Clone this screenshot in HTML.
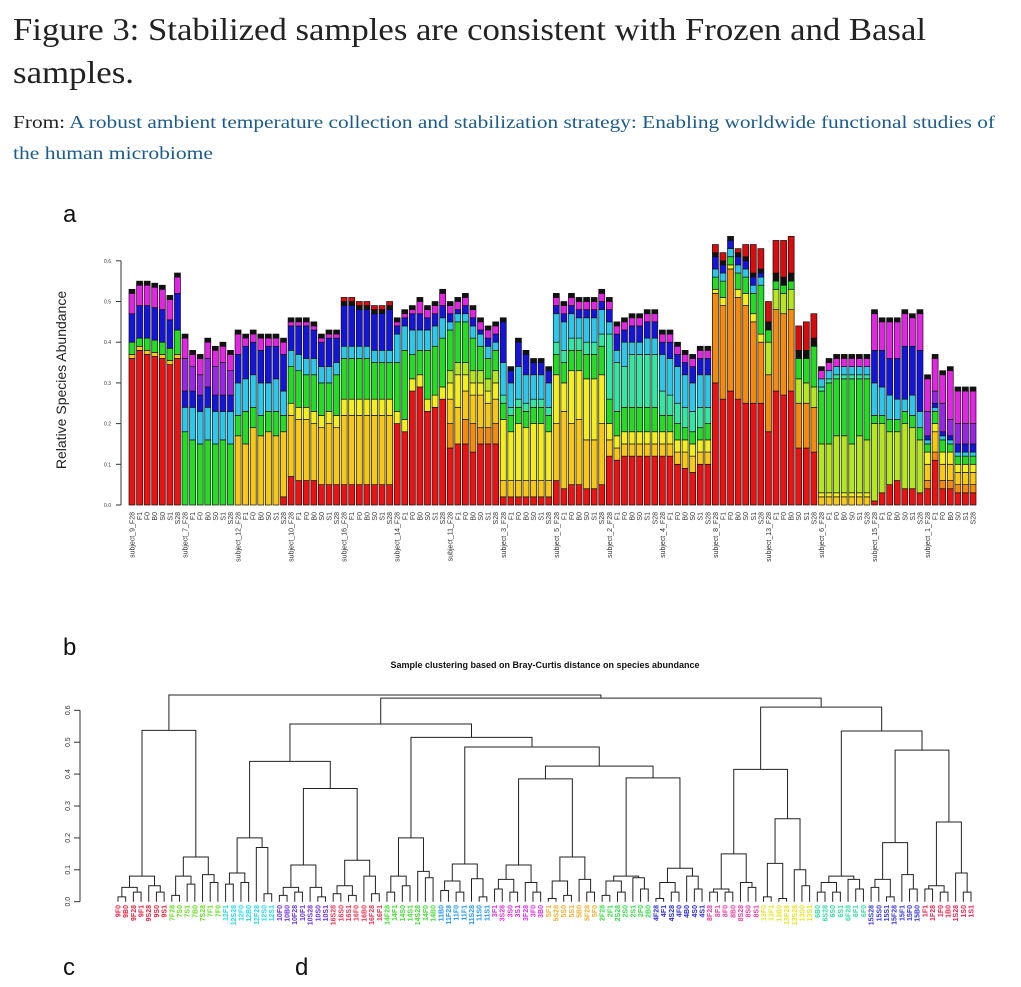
<!DOCTYPE html>
<html><head><meta charset="utf-8"><style>
html,body{margin:0;padding:0;background:#fff;}
svg{display:block;}
</style></head><body>
<svg id="fig" width="1021" height="987" viewBox="0 0 1021 987" xmlns="http://www.w3.org/2000/svg">
<text x="13" y="40" font-family="Liberation Serif, serif" font-size="32" fill="#222" textLength="913" lengthAdjust="spacingAndGlyphs">Figure 3: Stabilized samples are consistent with Frozen and Basal</text>
<text x="13" y="83" font-family="Liberation Serif, serif" font-size="32" fill="#222" textLength="121" lengthAdjust="spacingAndGlyphs">samples.</text>
<text x="13" y="128" font-family="Liberation Serif, serif" font-size="18" fill="#222" textLength="982" lengthAdjust="spacingAndGlyphs">From: <tspan fill="#1b5b8c">A robust ambient temperature collection and stabilization strategy: Enabling worldwide functional studies of</tspan></text>
<text x="13" y="159" font-family="Liberation Serif, serif" font-size="18" fill="#1b5b8c" textLength="200" lengthAdjust="spacingAndGlyphs">the human microbiome</text>
<text x="63" y="222" font-family="Liberation Sans, sans-serif" font-size="24" fill="#111">a</text>
<text x="63" y="655" font-family="Liberation Sans, sans-serif" font-size="24" fill="#111">b</text>
<text x="63" y="975" font-family="Liberation Sans, sans-serif" font-size="24" fill="#111">c</text>
<text x="295" y="975" font-family="Liberation Sans, sans-serif" font-size="24" fill="#111">d</text>
<g id="bars"></g>
<g id="dendro"></g>
</svg>
<script>
const subjects = [9,7,12,10,16,14,11,3,5,2,4,8,13,6,15,1];
const timepoints = ["F28","F1","F0","B0","S0","S1","S28"];
const yTicks = [0,0.1,0.2,0.3,0.4,0.5,0.6];
const Z = [0,0,0,0,0,0,0];
const red = [[.36,.38,.37,.365,.36,.345,.36],Z,[0,0,0,0,0,0,.02],[.07,.06,.06,.06,.05,.05,.05],[.05,.05,.05,.05,.05,.05,.05],[.20,.18,.28,.29,.23,.24,.26],[.14,.15,.15,.13,.15,.15,.15],[.02,.02,.02,.02,.02,.02,.02],[.06,.04,.05,.05,.04,.04,.05],[.12,.11,.12,.12,.12,.12,.12],[.12,.12,.10,.09,.08,.10,.10],[.30,.26,.28,.26,.25,.25,.25],[.18,.28,.27,.28,.14,.14,.13],Z,[.01,.03,.05,.06,.04,.04,.03],[.04,.11,.04,.04,.03,.03,.03]];
const orange = [Z,Z,Z,Z,Z,Z,[.06,0,.06,.07,.04,.04,.05],Z,Z,Z,Z,[.22,.23,.30,.25,.24,.20,.15],[.14,.20,.20,.20,.11,.11,.11],Z,Z,[.02,.02,.02,.02,.02,.02,.02]];
const gold = [[.01,.01,.01,.01,.01,.01,.01],Z,[.17,.15,.19,.17,.18,.17,.16],[.15,.15,.15,.14,.14,.15,.14],[.17,.17,.17,.17,.17,.17,.17],Z,[.06,.09,.07,.07,.08,.06,.06],[.04,.04,.04,.04,.04,.04,.04],[.14,.19,.15,.16,.12,.12,.15],[.04,.03,.03,.03,.03,.03,.03],[.03,.03,.03,.04,.04,.03,.03],Z,Z,[.02,.02,.02,.02,.02,.02,.02],Z,[.04,.05,.04,.04,.03,.03,.03]];
const yellow = [Z,Z,Z,[.03,.03,.03,.03,.03,.03,.03],[.04,.04,.04,.04,.04,.04,.04],[.03,.03,.03,.03,.03,.03,.03],[.04,.08,.04,.03,.03,.03,.04],[.15,.12,.14,.13,.14,.14,.12],[.12,.07,.13,.12,.15,.15,.12],[.04,.03,.03,.03,.03,.03,.03],[.03,.03,.03,.03,.03,.03,.03],[.01,.02,.01,.02,.03,.02,.02],Z,[.01,.01,.01,.01,.01,.01,.01],Z,[.03,.02,.03,.03,.02,.02,.02]];
const ygreen = [Z,Z,Z,Z,Z,Z,[.03,.03,.03,.03,.03,.03,.03],Z,Z,Z,Z,Z,[.08,.05,.05,.05,.06,.05,.05],[.12,.12,.14,.14,.12,.14,.13],[.19,.17,.13,.12,.16,.15,.13],Z];
const green = [[.03,.02,.03,.03,.03,.03,.06],[.18,.16,.15,.16,.15,.16,.15],[.05,.08,.05,.05,.05,.06,.04],[.09,.09,.08,.09,.08,.07,.10],[.10,.10,.10,.10,.09,.09,.09],[.12,.17,.06,.06,.12,.12,.12],[.10,.10,.10,.08,.06,.05,.05],[.04,.04,.04,.04,.04,.04,.04],[.05,.05,.05,.05,.06,.06,.07],[.06,.06,.06,.06,.06,.06,.06],[.04,.04,.04,.03,.03,.03,.04],[.03,.04,.02,.04,.04,.05,.12],[.03,.02,.02,.02,.05,.06,.10],[.13,.15,.14,.14,.16,.14,.15],[.02,.02,.03,.03,.03,.03,.03],[.02,.03,.03,.02,.02,.02,.02]];
const spring = [Z,Z,Z,Z,Z,Z,Z,[.02,.02,.02,.02,.02,.02,.02],[.03,.03,.03,.03,.03,.03,.03],[.16,.12,.10,.13,.13,.13,.13],[.06,.05,.05,.05,.05,.05,.04],Z,Z,[.01,.01,.01,.01,.01,.01,.01],Z,Z];
const cyan = [Z,[.06,.08,.08,.08,.08,.07,.08],[.08,.08,.08,.08,.07,.08,.06],[.04,.04,.04,.04,.04,.04,.03],[.03,.03,.03,.03,.03,.03,.03],[.07,.06,.06,.05,.05,.05,.05],[.02,.02,.02,.03,.03,.03,.02],[.08,.06,.08,.07,.06,.06,.06],[.07,.07,.06,.05,.06,.06,.06],[.03,.03,.06,.03,.03,.04,.04],[.09,.09,.09,.08,.07,.08,.08],[.02,.02,.02,.02,.02,.02,.02],Z,[.02,.02,.02,.02,.02,.02,.02],[.08,.07,.06,.05,.03,.05,.04],[.01,.01,.01,.01,.01,.01,.01]];
const blue = [[.07,.08,.08,.08,.08,.07,.09],[.04,.04,.04,.05,.04,.04,.04],[.07,.08,.08,.08,.09,.08,.09],[.06,.07,.08,.07,.06,.07,.06],[.10,.10,.09,.09,.09,.09,.10],[.02,.02,.04,.04,.03,.03,.03],[.02,.01,.02,.02,.01,.02,.02],[.10,.03,.06,.05,.03,.03,.03],[.02,.02,.02,.02,.02,.02,.02],[.03,.04,.03,.04,.04,.04,.04],[.03,.04,.03,.03,.04,.04,.04],[.03,.02,.02,.02,.02,.02,.01],Z,Z,[.08,.09,.09,.10,.13,.12,.15],[.01,.01,.01,.01,.02,.02,.02]];
const purple = [Z,[.08,.06,.05,.07,.07,.08,.06],Z,Z,Z,Z,Z,Z,Z,Z,Z,Z,Z,Z,Z,[.06,.03,.07,.04,.05,.05,.05]];
const magenta = [[.05,.05,.05,.05,.05,.05,.04],[.05,.03,.04,.04,.04,.04,.04],[.05,.02,.02,.03,.02,.02,.03],[.01,.01,.01,.01,.01,.01,.01],Z,[.01,.01,.01,.03,.02,.02,.03],[.02,.02,.02,.02,.02,.02,.02],Z,[.02,.02,.02,.02,.02,.02,.02],[.02,.02,.02,.02,.02,.02,.02],[.02,.02,.02,.02,.02,.02,.02],Z,Z,[.02,.02,.02,.02,.02,.02,.02],[.09,.07,.09,.09,.08,.07,.09],[.08,.08,.07,.12,.08,.08,.08]];
const black = [[.01,.01,.01,.01,.01,.01,.01],[.01,.01,.01,.01,.01,.01,.01],[.01,.01,.01,.01,.01,.01,.01],[.01,.01,.01,.01,.01,.01,.01],[.01,.01,.01,.01,.01,.01,.01],[.01,.01,.01,.01,.01,.01,.01],[.01,.01,.01,.01,.01,.01,.01],[.01,.01,.01,.01,.01,.01,.01],[.01,.01,.01,.01,.01,.01,.01],[.01,.01,.01,.01,.01,.01,.01],[.01,.01,.01,.01,.01,.01,.01],[.01,.01,.01,.01,.01,.01,.01],[.02,.02,.02,.02,.02,.02,.02],[.01,.01,.01,.01,.01,.01,.01],[.01,.01,.01,.01,.01,.01,.01],[.01,.01,.01,.01,.01,.01,.01]];
const topred = [Z,Z,Z,Z,[.01,.01,.01,.01,.01,.01,.01],Z,Z,Z,Z,Z,Z,[.02,.02,0,.01,.03,.07,.05],[.05,.08,.09,.09,.06,.07,.06],Z,Z,Z];
const speciesNames = ["red","orange","gold","yellow","ygreen","green","spring","cyan","blue","purple","magenta","black","topred"];
const speciesData = [red,orange,gold,yellow,ygreen,green,spring,cyan,blue,purple,magenta,black,topred];
const speciesColors = ["#ee1111","#f58a0c","#f8c812","#f4ee1a","#b4e81a","#22dd22","#30e8a0","#2cc8ec","#1414dc","#9a24e6","#e424e4","#111111","#d80c0c"];

const leafLabels = [
["9F0","9B0","9F28","9F1","9S28","9S0","9S1"],["7F28","7S0","7S1","7B0","7S28","7F1","7F0"],
["12F1","12S28","12F0","12B0","12F28","12S0","12S1"],["10F0","10B0","10F28","10F1","10S28","10S0","10S1"],
["16S28","16S0","16S1","16F0","16B0","16F28","16F1"],["14F28","14F1","14S0","14S1","14S28","14F0","14B0"],
["11B0","11F28","11F0","11F1","11S28","11S0","11S1"],["3F1","3S28","3S0","3S1","3F28","3F0","3B0"],
["5F1","5S28","5S0","5S1","5B0","5F28","5F0"],["2F28","2F1","2S28","2S0","2S1","2F0","2B0"],
["4F28","4F1","4S28","4F0","4B0","4S0","4S1"],["8F28","8F1","8F0","8B0","8S28","8S0","8S1"],
["13F0","13F1","13B0","13F28","13S28","13S0","13S1"],["6B0","6S28","6S0","6S1","6F28","6F1","6F0"],
["15S28","15S0","15S1","15F28","15F1","15F0","15B0"],["1F1","1F28","1F0","1B0","1S28","1S0","1S1"]];
const leafColors = ["#ee2040","#66dd22","#22dde8","#6a30e0","#f03050","#44dd33","#2299ee","#e030e0","#f0b030","#33dd44","#2a2ae0","#f03ca0","#e6e628","#30e0a0","#3838e0","#f0204c"];
const subHeights = [[.015,.03,.03,.045,.05,.08],[.02,.055,.06,.08,.085,.14],[.055,.06,.025,.09,.17,.20],[.02,.03,.015,.045,.045,.115],[.025,.02,.025,.05,.08,.13],[.03,.05,.075,.08,.095,.2],[.035,.03,.015,.065,.072,.118],[.04,.03,.03,.07,.06,.115],[.01,.02,.03,.065,.07,.14],[.02,.03,.04,.065,.075,.08],[.01,.03,.04,.06,.08,.105],[.03,.03,.045,.04,.06,.15],[.015,.01,.05,.12,.10,.26],[.03,.03,.04,.06,.07,.08],[.045,.015,.04,.07,.085,.185],[.04,.03,.03,.05,.09,.25]];
const upperHeights = {root:.648,g97:.537,rest:.638,A:.557,A1:.44,A1b:.355,A2:.515,A3:.485,A4:.425,A5a:.385,A5b:.388,B:.61,B1:.415,B2:.535,B3:.475};
const dTicks = [0,0.1,0.2,0.3,0.4,0.5,0.6];

const NS="http://www.w3.org/2000/svg";
function mk(parent,tag,attrs){const e=document.createElementNS(NS,tag);for(const k in attrs)e.setAttribute(k,attrs[k]);parent.appendChild(e);return e;}

const gb=document.getElementById('bars');
const y0=505, pxPer=407, x0=132, step=(973-132)/111, bw=6;
const ys=v=>y0-v*pxPer;
const xs=i=>x0+i*step;
const ax=mk(gb,'line',{x1:121,y1:ys(0),x2:121,y2:ys(0.6),stroke:'#333','stroke-width':1});


yTicks.forEach(t=>{
  const l=mk(gb,'line',{x1:116,y1:ys(t),x2:121,y2:ys(t),stroke:'#333','stroke-width':1});
  
  
  const tx=mk(gb,'text',{x:111,y:ys(t)+2,'font-family':'Liberation Sans, sans-serif','font-size':5,'text-anchor':'end',fill:'#333'});
  tx.textContent=t.toFixed(1);
  
  
});
const yt=mk(gb,'text',{x:0,y:0,transform:'translate(66,380) rotate(-90)','font-family':'Liberation Sans, sans-serif','font-size':14,'text-anchor':'middle',fill:'#222'});
yt.textContent='Relative Species Abundance';


subjects.forEach((s,si)=>{
  timepoints.forEach((tp,ti)=>{
    const i=si*7+ti;
    const cx=xs(i);
    let acc=0;
    const bar=mk(gb,'g',{});
    
    
    speciesData.forEach((arr,k)=>{
      const v=arr[si][ti];
      if(!v)return;
      const r=mk(bar,'rect',{x:cx-bw/2,y:ys(acc+v),width:bw,height:v*pxPer,fill:speciesColors[k],stroke:'#111','stroke-width':0.7});
      
      
      acc+=v;
    });
    const lb=mk(gb,'text',{x:0,y:0,transform:`translate(${cx+2.5},512) rotate(-90)`,'font-family':'Liberation Sans, sans-serif','font-size':7,'text-anchor':'end',fill:'#333'});
    lb.textContent=ti===0?('subject_'+s+'_'+tp):tp;
    
    
  });
});

const gd=document.getElementById('dendro');
const dy0=901.7, dpx=319, dx0=118, dstep=(971-118)/111;
const dys=v=>dy0-v*dpx;
const dxs=i=>dx0+i*dstep;
const dt=mk(gd,'text',{x:545,y:668,'font-family':'Liberation Sans, sans-serif','font-size':9,'font-weight':'bold','text-anchor':'middle',fill:'#111'});
dt.textContent='Sample clustering based on Bray-Curtis distance on species abundance';


const dax=mk(gd,'line',{x1:80,y1:dys(0),x2:80,y2:dys(0.6),stroke:'#333','stroke-width':1});


dTicks.forEach(t=>{
  const l=mk(gd,'line',{x1:74,y1:dys(t),x2:80,y2:dys(t),stroke:'#333','stroke-width':1});
  
  
  const tx=mk(gd,'text',{x:0,y:0,transform:`translate(${70},${dys(t)}) rotate(-90)`,'font-family':'Liberation Sans, sans-serif','font-size':7,'text-anchor':'middle',fill:'#333'});
  tx.textContent=t.toFixed(1);
  
  
});
function sub(si){
  const h=subHeights[si], b=si*7;
  return [h[5],[h[3],[h[0],b,b+1],[h[1],b+2,b+3]],[h[4],b+4,[h[2],b+5,b+6]]];
}
const U=upperHeights;
const tree=[U.root,[U.g97,sub(0),sub(1)],[U.rest,
  [U.A,[U.A1,sub(2),[U.A1b,sub(3),sub(4)]],[U.A2,sub(5),[U.A3,sub(6),[U.A4,[U.A5a,sub(7),sub(8)],[U.A5b,sub(9),sub(10)]]]]],
  [U.B,[U.B1,sub(11),sub(12)],[U.B2,sub(13),[U.B3,sub(14),sub(15)]]]]];
function draw(node){
  if(typeof node==='number')return {x:dxs(node),h:0};
  const a=draw(node[1]), b=draw(node[2]), h=node[0];
  const p=mk(gd,'path',{d:`M${a.x},${dys(a.h)}V${dys(h)}H${b.x}V${dys(b.h)}`,fill:'none',stroke:'#222','stroke-width':1});
  
  
  return {x:(a.x+b.x)/2,h:h};
}
draw(tree);
leafLabels.forEach((grp,si)=>grp.forEach((lab,j)=>{
  const i=si*7+j;
  const t=mk(gd,'text',{x:0,y:0,transform:`translate(${dxs(i)+2.5},905) rotate(-90)`,'font-family':'Liberation Sans, sans-serif','font-size':7,'font-weight':'bold','text-anchor':'end',fill:leafColors[si]});
  t.textContent=lab;
  
  
}));
</script>
</body></html>
